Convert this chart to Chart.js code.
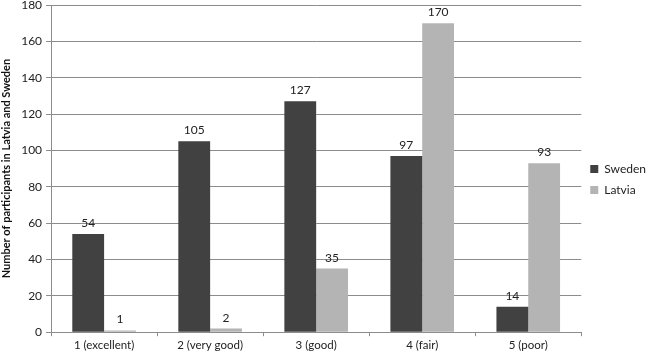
<!DOCTYPE html>
<html>
<head>
<meta charset="utf-8">
<script src="https://cdn.jsdelivr.net/npm/chart.js@4.4.0/dist/chart.umd.min.js"></script>
<style>
html,body{margin:0;padding:0;background:#fff;}
#wrap{width:656px;height:356px;position:relative;}
</style>
</head>
<body>
<div id="wrap"><canvas id="c" width="656" height="356"></canvas></div>
<script>
const categories = ["1 (excellent)", "2 (very good)", "3 (good)", "4 (fair)", "5 (poor)"];
const sweden = [54, 105, 127, 97, 14];
const latvia = [1, 2, 35, 170, 93];
const seriesNames = ["Sweden", "Latvia"];
const yTitle = "Number of participants in Latvia and Sweden";

const FONT = "Lato, 'Open Sans', sans-serif";

const valueLabels = {
  id: 'valueLabels',
  afterDatasetsDraw(chart) {
    const ctx = chart.ctx;
    ctx.save();
    ctx.font = "12px " + FONT;
    ctx.fillStyle = "#222";
    ctx.textAlign = "center";
    ctx.textBaseline = "alphabetic";
    chart.data.datasets.forEach((ds, i) => {
      const meta = chart.getDatasetMeta(i);
      meta.data.forEach((bar, j) => {
        ctx.fillText(String(ds.data[j]), bar.x, bar.y - 7);
      });
    });
    ctx.restore();
  }
};

new Chart(document.getElementById('c'), {
  type: 'bar',
  data: {
    labels: categories,
    datasets: [
      { label: seriesNames[0], data: sweden, backgroundColor: '#414141' },
      { label: seriesNames[1], data: latvia, backgroundColor: '#b4b4b4' }
    ]
  },
  options: {
    responsive: false,
    animation: false,
    devicePixelRatio: 1,
    layout: { padding: { top: 5, right: 0, left: 0, bottom: 2 } },
    datasets: { bar: { categoryPercentage: 0.6, barPercentage: 1.0 } },
    plugins: {
      legend: {
        position: 'right',
        align: 'center',
        labels: {
          boxWidth: 8, boxHeight: 8, padding: 9,
          color: '#222',
          font: { family: FONT, size: 12 }
        }
      },
      tooltip: { enabled: false }
    },
    scales: {
      x: {
        offset: true,
        grid: { display: true, offset: true, drawOnChartArea: false, drawTicks: true, tickLength: 4, color: '#8c8c8c' },
        border: { color: '#8c8c8c' },
        ticks: { color: '#222', font: { family: FONT, size: 11.5 }, padding: 2, maxRotation: 0 }
      },
      y: {
        min: 0, max: 180,
        afterFit(scale) { scale.paddingTop = 0; },
        ticks: { stepSize: 20, color: '#222', font: { family: FONT, size: 12 }, padding: 4 },
        grid: { color: '#8c8c8c', tickLength: 5 },
        border: { color: '#8c8c8c' },
        title: { display: true, text: yTitle, color: '#111', font: { family: FONT, size: 11, weight: 'bold' }, padding: { top: 0, bottom: 4 } }
      }
    }
  },
  plugins: [valueLabels]
});
</script>
</body>
</html>
